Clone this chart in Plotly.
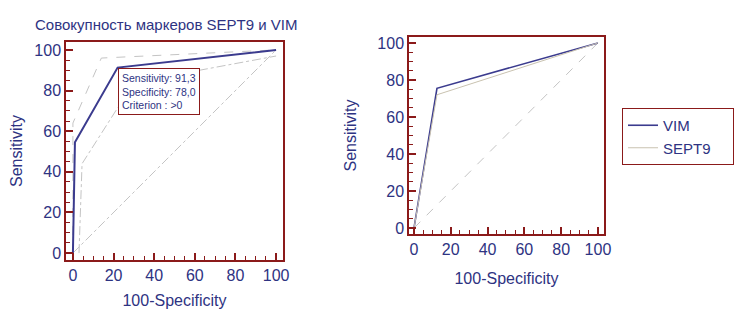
import plotly.graph_objects as go

# ---- data ----
# Left panel: combined markers SEPT9 + VIM
comb_fpr = [0, 1, 22, 100]
comb_sens = [0, 54.5, 91.3, 100]
comb_upper_fpr = [0, 0, 14, 100]
comb_upper_sens = [0, 64, 96, 100]
comb_lower_fpr = [3, 4.5, 30, 100]
comb_lower_sens = [0, 44, 84, 97]
diag = [0, 100]

# Right panel: individual markers
vim_fpr = [0, 12.5, 100]
vim_sens = [0, 75.5, 100]
sept9_fpr = [0, 12.5, 100]
sept9_sens = [0, 72, 100]

tick_step = 20
minor_step = 5

W, H = 746, 316
OFF = 8  # page body margin of the browser
NAVY = "#2e3382"
BLUE = "#3b3b8e"
RED = "#8b1a1a"
GRAY = "#c4c4c4"
FONT = "Liberation Sans, Arial, sans-serif"


def px(x):
    return (x - OFF) / W


def py(y):
    return 1 - (y - OFF) / H


fig = go.Figure()

# left panel traces
fig.add_trace(go.Scatter(x=diag, y=diag, mode="lines", xaxis="x", yaxis="y",
                         line=dict(color=GRAY, width=1, dash="dashdot"), showlegend=False))
fig.add_trace(go.Scatter(x=comb_upper_fpr, y=comb_upper_sens, mode="lines", xaxis="x", yaxis="y",
                         line=dict(color=GRAY, width=1, dash="dash"), showlegend=False))
fig.add_trace(go.Scatter(x=comb_lower_fpr, y=comb_lower_sens, mode="lines", xaxis="x", yaxis="y",
                         line=dict(color=GRAY, width=1, dash="dashdot"), showlegend=False))
fig.add_trace(go.Scatter(x=comb_fpr, y=comb_sens, mode="lines", xaxis="x", yaxis="y",
                         line=dict(color=BLUE, width=2), showlegend=False))

# right panel traces
fig.add_trace(go.Scatter(x=diag, y=diag, mode="lines", xaxis="x2", yaxis="y2",
                         line=dict(color=GRAY, width=1, dash="dash"), showlegend=False))
fig.add_trace(go.Scatter(x=vim_fpr, y=vim_sens, mode="lines", xaxis="x2", yaxis="y2", name="VIM",
                         line=dict(color=BLUE, width=1.6)))
fig.add_trace(go.Scatter(x=sept9_fpr, y=sept9_sens, mode="lines", xaxis="x2", yaxis="y2", name="SEPT9    ",
                         line=dict(color="#c9c2b0", width=1)))


def axis(domain, rng, title, anchor, standoff):
    return dict(
        domain=domain, range=rng, anchor=anchor, automargin=False,
        tickmode="linear", tick0=0, dtick=tick_step,
        ticks="inside", ticklen=7, tickwidth=1.5, tickcolor=RED,
        minor=dict(tickmode="linear", tick0=0, dtick=minor_step, ticks="inside",
                   ticklen=4, tickcolor=RED, tickwidth=1),
        showline=True, mirror=True, linecolor=RED, linewidth=1.5,
        showgrid=False, zeroline=False,
        tickfont=dict(family=FONT, size=16, color=NAVY),
        title=dict(text=title, font=dict(family=FONT, size=16, color=NAVY), standoff=standoff),
    )


fig.update_layout(
    width=W, height=H,
    margin=dict(l=0, r=0, t=0, b=0),
    paper_bgcolor="white", plot_bgcolor="white",
    xaxis=axis([px(66), px(283)], [-3.4, 103.4], "100-Specificity", "y", 12),
    yaxis=axis([py(260), py(42)], [-3.4, 103.9], "Sensitivity", "x", 14),
    xaxis2=axis([px(409), px(604)], [-2.7, 103.3], "100-Specificity", "y2", 16),
    yaxis2=axis([py(234), py(37)], [-3.2, 103.2], "Sensitivity", "x2", 17),
    legend=dict(x=px(622), y=py(108), xanchor="left", yanchor="top",
                bordercolor=RED, borderwidth=1, bgcolor="white",
                font=dict(family=FONT, size=15, color=NAVY), tracegroupgap=0,
                itemwidth=30),
    showlegend=True,
)

fig.add_annotation(
    xref="paper", yref="paper", x=px(33), y=py(25), xanchor="left", yanchor="middle",
    text="Совокупность маркеров SEPT9 и VIM", showarrow=False,
    font=dict(family=FONT, size=15, color=NAVY),
)

fig.add_annotation(
    xref="paper", yref="paper", x=px(118), y=py(68), xanchor="left", yanchor="top",
    text="Sensitivity: 91,3<br>Specificity: 78,0<br>Criterion : >0",
    align="left", showarrow=False, bgcolor="white",
    bordercolor=RED, borderwidth=1, borderpad=3,
    font=dict(family=FONT, size=10.5, color=NAVY),
)

fig.write_html("out.html")
